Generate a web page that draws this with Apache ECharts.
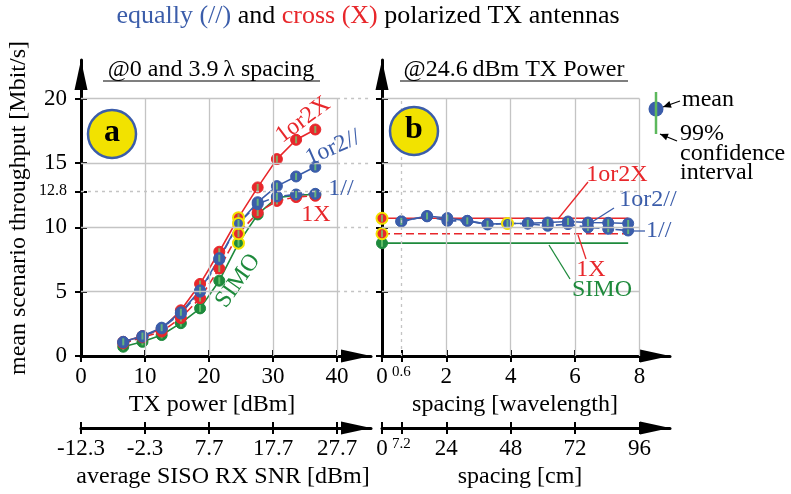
<!DOCTYPE html>
<html><head><meta charset="utf-8">
<script src="https://cdn.jsdelivr.net/npm/echarts@6/dist/echarts.min.js"></script>
<style>html,body{margin:0;padding:0;background:#fff}#c{width:791px;height:494px}</style>
</head><body><div id="c"></div>
<script>
// ---------- data ----------
const txPower = [6.6, 9.6, 12.6, 15.6, 18.6, 21.6, 24.6, 27.6, 30.6, 33.6, 36.6];
const a1or2X = [1.1, 1.55, 2.1, 3.55, 5.6, 8.1, 10.75, 13.1, 15.3, 16.8, 17.6];
const a1or2P = [1.1, 1.55, 2.2, 3.4, 5.1, 7.6, 10.3, 11.95, 13.2, 13.95, 14.7];
const a1P = [1.05, 1.5, 2.15, 3.3, 5.0, 7.5, 10.3, 11.8, 12.4, 12.55, 12.6];
const a1X = [0.98, 1.45, 1.9, 2.95, 4.5, 6.8, 9.5, 11.15, 12.05, 12.35, 12.45];
const aSIMO = [0.72, 1.1, 1.63, 2.55, 3.7, 5.85, 8.77, 11.0, 12.3, 12.5, 12.55];

const spacing = [0.6, 1.4, 2.03, 2.65, 3.28, 3.9, 4.53, 5.15, 5.78, 6.4, 7.03, 7.65];
const b1or2P = [10.46, 10.88, 10.72, 10.5, 10.25, 10.3, 10.32, 10.37, 10.45, 10.37, 10.35, 10.3];
const b1P = [10.46, 10.85, 10.5, 10.5, 10.22, 10.3, 10.28, 10.12, 10.25, 9.99, 9.88, 9.75];
const b1or2X = 10.7, b1X = 9.5, bSIMO = 8.77;

const txTicks = [0, 10, 20, 30, 40];
const snrTicks = [-12.3, -2.3, 7.7, 17.7, 27.7];
const lambdaTicks = [0, 0.6, 2, 4, 6, 8];
const cmTicks = [0, 7.2, 24, 48, 72, 96];
const yTicks = [0, 5, 10, 12.8, 15, 20];

// ---------- style ----------
const FONT = '"Liberation Serif", "DejaVu Serif", serif';
const FS = 24, TS = 23;
const BLUE = '#3b5daa', RED = '#e8272b', GREEN = '#1e8a3c', CIG = '#72c972', YEL = '#f2e200', GRAY = '#c4c4c4';
const TXMAX = 45.3, SNROFF = -12.3, LMAX = 8.95, CMPERL = 12, YMAX = 23;

const chart = echarts.init(document.getElementById('c'));

function mkX(gridIndex, min, max, ticks, offset, name, shift, fmt, gap) {
  return [{
    gridIndex, type: 'value', min, max, position: 'bottom', offset,
    axisLine: {show: true, onZero: false, lineStyle: {color: '#000', width: 3}, symbol: ['none', 'triangle'], symbolSize: [13, 30], symbolOffset: [0, -15]},
    axisTick: {show: true, customValues: ticks, length: 6, lineStyle: {color: '#000', width: 2}},
    axisLabel: {show: true, customValues: ticks, formatter: fmt, margin: 9, color: '#000', fontFamily: FONT, fontSize: TS,
      rich: {s: {fontSize: 15, fontFamily: FONT, color: '#000'}}},
    splitLine: {show: false},
    name, nameLocation: 'middle', nameGap: gap,
    nameTextStyle: {fontFamily: FONT, fontSize: FS, color: '#000', padding: [0, shift, 0, 0]}
  }, {
    gridIndex, type: 'value', min, max, position: 'bottom', offset,
    axisLine: {show: false, onZero: false},
    axisTick: {show: true, inside: true, customValues: ticks, length: 6, lineStyle: {color: '#000', width: 2}},
    axisLabel: {show: false}, splitLine: {show: false}
  }];
}
function mkY(gridIndex, showLabels, name) {
  const base = {
    gridIndex, type: 'value', min: 0, max: YMAX, position: 'left',
    axisLine: {show: true, onZero: false, lineStyle: {color: '#000', width: 3}, symbol: ['none', 'triangle'], symbolSize: [13, 30], symbolOffset: [0, -15]},
    axisTick: {show: true, customValues: yTicks, length: 6, lineStyle: {color: '#000', width: 2}},
    axisLabel: {show: showLabels, customValues: yTicks, margin: 14, color: '#000', fontFamily: FONT, fontSize: TS,
      formatter: v => v === 12.8 ? '{s|12.8}' : String(v), rich: {s: {fontSize: 16, fontFamily: FONT, color: '#000'}}},
    splitLine: {show: false}
  };
  if (name) Object.assign(base, {name, nameLocation: 'middle', nameGap: 50, nameTextStyle: {fontFamily: FONT, fontSize: FS, color: '#000'}});
  return [base, {
    gridIndex, type: 'value', min: 0, max: YMAX, position: 'left',
    axisLine: {show: false, onZero: false},
    axisTick: {show: true, inside: true, customValues: yTicks, length: 6, lineStyle: {color: '#000', width: 2}},
    axisLabel: {show: false}, splitLine: {show: false}
  }];
}

const xAxes = [].concat(
  mkX(0, 0, TXMAX, txTicks, 0, 'TX power [dBm]', 28, v => String(v), 33),
  mkX(0, SNROFF, TXMAX + SNROFF, snrTicks, 72, 'average SISO RX SNR [dBm]', 6, v => v.toFixed(1), 35),
  mkX(1, 0, LMAX, lambdaTicks, 0, 'spacing [wavelength]', 22, v => v === 0.6 ? '{s|0.6}' : String(v), 33),
  mkX(1, 0, LMAX * CMPERL, cmTicks, 72, 'spacing [cm]', 12, v => v === 7.2 ? '{s|7.2}' : String(v), 35)
);
const yAxes = [].concat(mkY(0, true, 'mean scenario throughput [Mbit/s]'), mkY(1, false));

// ---------- grid lines (via markLine in data space) ----------
const solid = {color: GRAY, width: 1.3, type: 'solid'};
const dash = {color: GRAY, width: 1.3, type: [3, 4]};
function seg(x1, y1, x2, y2, ls) { return [{coord: [x1, y1], lineStyle: ls}, {coord: [x2, y2]}]; }
const gridA = [], gridB = [];
[10, 20, 30, 40].forEach(x => gridA.push(seg(x, 0, x, 20, solid)));
[5, 10, 15, 20].forEach(y => { gridA.push(seg(0, y, 40, y, solid)); gridA.push(seg(40, y, TXMAX, y, dash)); });
gridA.push(seg(0, 12.8, TXMAX, 12.8, dash));
[2, 4, 6, 8].forEach(x => gridB.push(seg(x, 0, x, 20, solid)));
gridB.push(seg(0.6, 0, 0.6, 20, dash));
[5, 10, 15, 20].forEach(y => gridB.push(seg(0, y, 8, y, solid)));
gridB.push(seg(0, 12.8, 8, 12.8, dash));

function gridSeries(xi, yi, lines) {
  return {type: 'line', xAxisIndex: xi, yAxisIndex: yi, data: [], silent: true, z: 0,
    markLine: {silent: true, symbol: 'none', label: {show: false}, animation: false, data: lines}};
}

// ---------- data series ----------
const series = [gridSeries(0, 0, gridA), gridSeries(4, 2, gridB)];
function addCurve(xi, yi, xs, ys, color, dashed, hlIdx) {
  const data = xs.map((x, i) => {
    const it = {value: [x, ys[i]]};
    if (hlIdx.includes(i)) it.itemStyle = {borderColor: YEL, borderWidth: 2};
    return it;
  });
  series.push({type: 'line', xAxisIndex: xi, yAxisIndex: yi, data, symbol: 'circle', symbolSize: 11,
    lineStyle: {color, width: 1.6, type: dashed ? [8, 4] : 'solid'},
    itemStyle: {color, borderColor: color, borderWidth: 1}, z: 3, animation: false});
  series.push({type: 'scatter', xAxisIndex: xi, yAxisIndex: yi, data: xs.map((x, i) => [x, ys[i]]),
    symbol: 'rect', symbolSize: [2, 7], itemStyle: {color: CIG}, z: 3, animation: false, silent: true});
}
addCurve(0, 0, txPower, aSIMO, GREEN, false, [6]);
addCurve(0, 0, txPower, a1X, RED, true, [6]);
addCurve(0, 0, txPower, a1or2X, RED, false, [6]);
addCurve(0, 0, txPower, a1P, BLUE, true, []);
addCurve(0, 0, txPower, a1or2P, BLUE, false, [6]);

function addConst(v, color, dashed, hl) {
  const xEnd = spacing[spacing.length - 1];
  series.push({type: 'line', xAxisIndex: 4, yAxisIndex: 2,
    data: [{value: [0, v], itemStyle: hl ? {borderColor: YEL, borderWidth: 2} : undefined}, {value: [xEnd, v], symbol: 'none'}],
    symbol: 'circle', symbolSize: 11, lineStyle: {color, width: 1.6, type: dashed ? [8, 4] : 'solid'},
    itemStyle: {color, borderColor: color, borderWidth: 1}, z: 3, animation: false});
  series.push({type: 'scatter', xAxisIndex: 4, yAxisIndex: 2, data: [[0, v]], symbol: 'rect', symbolSize: [2, 7],
    itemStyle: {color: CIG}, z: 3, animation: false, silent: true});
}
addConst(bSIMO, GREEN, false, false);
addConst(b1X, RED, true, true);
addConst(b1or2X, RED, false, true);
addCurve(4, 2, spacing, b1P, BLUE, true, []);
addCurve(4, 2, spacing, b1or2P, BLUE, false, [5]);

// ---------- annotations ----------
const G = [];
function txt(x, y, text, color, size, rot, align, weight) {
  G.push({type: 'text', x, y, rotation: rot || 0, z: 10,
    style: {text, fill: color, fontFamily: FONT, fontSize: size, fontWeight: weight || 'normal', align: align || 'center', verticalAlign: 'middle'}});
}
function ln(x1, y1, x2, y2, color, w) {
  G.push({type: 'line', z: 10, shape: {x1, y1, x2, y2}, style: {stroke: color, lineWidth: w || 1.3}});
}
function arrow(x1, y1, x2, y2) {
  ln(x1, y1, x2, y2, '#000', 1.3);
  const a = Math.atan2(y2 - y1, x2 - x1), L = 8, W = 3.5;
  const bx = x2 - L * Math.cos(a), by = y2 - L * Math.sin(a);
  G.push({type: 'polygon', z: 10, shape: {points: [[x2, y2], [bx - W * Math.sin(a), by + W * Math.cos(a)], [bx + W * Math.sin(a), by - W * Math.cos(a)]]}, style: {fill: '#000'}});
}
// title (rich, coloured parts)
G.push({type: 'text', x: 368, y: 16, z: 10, style: {
  text: '{b|equally (//)} and {r|cross (X)} polarized TX antennas', fill: '#000', fontFamily: FONT, fontSize: 26,
  align: 'center', verticalAlign: 'middle',
  rich: {b: {fill: BLUE, fontFamily: FONT, fontSize: 26}, r: {fill: RED, fontFamily: FONT, fontSize: 26}}}});
// subtitles
txt(211, 70, '@0 and 3.9\u2009\u03bb spacing', '#000', FS);
ln(103, 81, 320, 81, '#000', 1.2);
txt(514, 70, '@24.6\u2009dBm TX Power', '#000', FS);
ln(400, 81, 628, 81, '#000', 1.2);
// badges
[[112, 134, 'a'], [414, 131, 'b']].forEach(([x, y, t]) => {
  G.push({type: 'circle', z: 10, shape: {cx: x, cy: y, r: 24}, style: {fill: YEL, stroke: BLUE, lineWidth: 2.5}});
  txt(x, y - 1, t, '#000', 32, 0, 'center', 'bold');
});
// panel a labels
txt(303, 120, '1or2X', RED, FS, 0.64);
txt(333, 148, '1or2//', BLUE, FS, 0.42);
txt(341, 189, '1//', BLUE, FS, 0);
txt(316, 215, '1X', RED, FS, 0);
txt(238, 281, 'SIMO', GREEN, FS, 0.95);
// panel b labels
ln(558, 219, 588, 182, RED); txt(617, 175, '1or2X', RED, FS);
ln(592, 222, 614, 208, BLUE); txt(648, 200, '1or2//', BLUE, FS);
ln(630, 231, 645, 231, BLUE); txt(646, 231, '1//', BLUE, FS, 0, 'left');
ln(578, 235, 586, 259, RED); txt(591, 270, '1X', RED, FS);
ln(549, 245, 570, 279, GREEN); txt(602, 290, 'SIMO', GREEN, FS);
// legend
ln(656, 92, 656, 134, '#5cb85c', 2.5);
G.push({type: 'circle', z: 9, shape: {cx: 656, cy: 109, r: 7.5}, style: {fill: BLUE}});
arrow(680, 101, 663, 107);
txt(682, 100, 'mean', '#000', FS, 0, 'left');
arrow(677, 141, 660, 134);
txt(680, 134, '99%', '#000', FS, 0, 'left');
txt(680, 154, 'confidence', '#000', FS, 0, 'left');
txt(680, 173, 'interval', '#000', FS, 0, 'left');

chart.setOption({
  animation: false,
  backgroundColor: '#fff',
  grid: [
    {left: 81, top: 60, width: 290, height: 296},
    {left: 382, top: 60, width: 288, height: 296}
  ],
  xAxis: xAxes,
  yAxis: yAxes,
  series,
  graphic: G
});
</script></body></html>
